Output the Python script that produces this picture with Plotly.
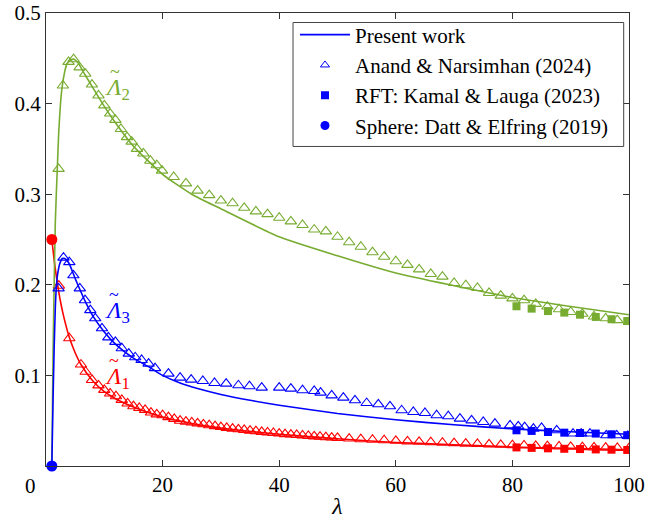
import plotly.graph_objects as go

# ---------------- data ----------------
# Present work (solid curves)
lam1_line = [1, 1.5, 2, 2.5, 3, 4, 5, 6, 8, 10, 12, 15, 20, 25, 30, 40, 50, 60, 70, 80, 90, 100]
L1_line = [0.25, 0.222, 0.200, 0.181, 0.166, 0.142, 0.125, 0.112, 0.094, 0.082, 0.074, 0.065,
           0.054, 0.047, 0.042, 0.035, 0.030, 0.026, 0.0235, 0.021, 0.0195, 0.018]

lam2_line = [1, 1.2, 1.4, 1.6, 1.95, 2.2, 2.7, 3.2, 3.6, 4.2, 4.8, 5.5, 6.5, 8, 10, 12, 15, 20,
             25, 30, 40, 50, 60, 70, 80, 90, 100]
L2_line = [0.0, 0.12, 0.20, 0.27, 0.33, 0.37, 0.415, 0.435, 0.444, 0.448, 0.449, 0.445, 0.434,
           0.418, 0.397, 0.378, 0.353, 0.322, 0.300, 0.284, 0.253, 0.232, 0.213, 0.199, 0.186,
           0.176, 0.167]

lam3_line = [1, 1.2, 1.4, 1.6, 1.8, 2.0, 2.4, 2.8, 3.2, 3.6, 4, 5, 6, 7, 8, 10, 12, 15, 18, 20,
             23, 26, 30, 35, 40, 50, 60, 70, 80, 90, 100]
L3_line = [0.0, 0.07, 0.13, 0.175, 0.20, 0.212, 0.224, 0.229, 0.229, 0.227, 0.223, 0.207, 0.192,
           0.178, 0.166, 0.148, 0.134, 0.119, 0.108, 0.100, 0.0916, 0.0855, 0.079, 0.0725, 0.067,
           0.058, 0.051, 0.0455, 0.0410, 0.0378, 0.035]

# Anand & Narsimhan (2024) triangles
lam1_an = [2.2, 4.0, 6.0, 6.8, 7.9, 9.0, 10, 11, 12, 13, 14, 15, 16, 17, 18, 19, 20, 21, 22, 23,
           24, 25, 26, 27, 28, 29, 30, 31, 32, 33, 34, 35, 36, 37, 38, 39, 40, 41, 42, 43, 44, 45,
           46, 47, 48, 49, 50, 52, 54, 56, 58, 60, 62, 64, 66, 68, 70, 72, 74, 76, 78, 80, 82, 84,
           86, 88, 90, 92, 94, 96, 98, 100]
L1_an = [0.199, 0.141, 0.112, 0.104, 0.095, 0.089, 0.084, 0.080, 0.077, 0.073, 0.069, 0.066, 0.064,
         0.062, 0.059, 0.057, 0.056, 0.054, 0.052, 0.050, 0.049, 0.048, 0.047, 0.046, 0.045, 0.044,
         0.043, 0.042, 0.0412, 0.0405, 0.0398, 0.039, 0.0384, 0.0377, 0.037, 0.0364, 0.0358,
         0.0352, 0.0347, 0.0342, 0.0337, 0.0332, 0.0327, 0.0323, 0.0318, 0.0314, 0.031, 0.0303,
         0.0296, 0.029, 0.0284, 0.0278, 0.0272, 0.0267, 0.0262, 0.0257, 0.0252, 0.0247, 0.0243,
         0.0238, 0.0234, 0.023, 0.0226, 0.0222, 0.0219, 0.0215, 0.0212, 0.0208, 0.0205, 0.0202,
         0.0199, 0.0196]

lam2_an = [2.16, 2.9, 3.87, 4.73, 5.76, 6.73, 7.88, 9.0, 10.0, 11.0, 11.9, 12.85, 13.9, 14.7, 15.6,
           16.7, 17.9, 19.0, 19.9, 21.9, 24, 26, 28, 30, 32, 34, 36, 38, 40, 42, 44, 46, 48, 50, 52,
           54, 56, 58, 60, 62, 64, 66, 68, 70, 72, 74, 76, 78, 80, 82, 84, 86, 88, 90, 92, 94, 96,
           98, 100]
L2_an = [0.328, 0.420, 0.446, 0.449, 0.440, 0.433, 0.421, 0.409, 0.398, 0.389, 0.382, 0.372, 0.363,
         0.358, 0.350, 0.345, 0.337, 0.332, 0.326, 0.319, 0.312, 0.304, 0.299, 0.293, 0.290, 0.285,
         0.281, 0.278, 0.274, 0.270, 0.266, 0.261, 0.259, 0.253, 0.247, 0.242, 0.236, 0.231, 0.226,
         0.222, 0.217, 0.212, 0.209, 0.202, 0.1995, 0.1965, 0.191, 0.188, 0.185, 0.183, 0.179,
         0.176, 0.173, 0.170, 0.168, 0.165, 0.163, 0.161, 0.159]

lam3_an = [2.16, 3.0, 4.0, 4.7, 5.8, 6.7, 7.6, 8.45, 9.6, 10.7, 11.9, 13.0, 14.2, 15.3, 16.4, 17.6,
           18.7, 21.0, 23.0, 24.9, 26.9, 28.9, 30.9, 33.0, 34.9, 37.0, 40.0, 42, 44, 46, 47.1, 49,
           51, 53, 55, 57, 59, 61, 63, 65, 67, 69, 71, 73, 75, 77, 79.6, 81, 82.1, 83.6, 85, 87.6,
           90.4, 91.8, 93.3, 96.1, 97.9, 99.8]
L3_an = [0.196, 0.230, 0.225, 0.2105, 0.196, 0.183, 0.172, 0.163, 0.152, 0.142, 0.137, 0.130, 0.124,
         0.120, 0.117, 0.113, 0.108, 0.102, 0.0975, 0.0953, 0.0938, 0.0916, 0.0909, 0.0891, 0.088,
         0.0865, 0.0865, 0.0854, 0.0836, 0.0828, 0.081, 0.078, 0.0755, 0.0725, 0.0695, 0.0681,
         0.0659, 0.0615, 0.0596, 0.0585, 0.056, 0.0549, 0.0523, 0.0504, 0.0486, 0.0468, 0.0449,
         0.0438, 0.043, 0.0413, 0.042, 0.0394, 0.0358, 0.0358, 0.0358, 0.0339, 0.0339, 0.0332]

# RFT: Kamal & Lauga (2023) squares
lam_rft = [80.7, 83.3, 86.1, 88.9, 91.6, 94.3, 97.0, 99.7]
L1_rft = [0.0205, 0.0200, 0.0195, 0.0190, 0.0187, 0.0183, 0.0180, 0.0177]
L2_rft = [0.1763, 0.1737, 0.1710, 0.1693, 0.1670, 0.1645, 0.1620, 0.1600]
L3_rft = [0.0394, 0.0387, 0.0375, 0.0368, 0.0364, 0.0358, 0.0350, 0.0340]

# Sphere: Datt & Elfring (2019)
lam_sph = [1.0]
L1_sph = [0.25]
L3_sph = [0.0]

x_ticks = [20, 40, 60, 80, 100]
y_ticks = [0.1, 0.2, 0.3, 0.4, 0.5]

RED = "#FF0000"
GREEN = "#77AC30"
BLUE = "#0000FF"
FONT = "Liberation Serif, Tinos, Times New Roman, DejaVu Serif, serif"

fig = go.Figure()

def add_set(lam_l, L_l, lam_a, L_a, L_r, color):
    fig.add_trace(go.Scatter(x=lam_l, y=L_l, mode="lines",
                             line=dict(color=color, width=1.6, shape="spline", smoothing=0.6),
                             showlegend=False, hoverinfo="skip"))
    fig.add_trace(go.Scatter(x=lam_a, y=L_a, mode="markers",
                             marker=dict(symbol="triangle-up-open", size=10, color=color,
                                         line=dict(width=1.1, color=color)),
                             showlegend=False))
    fig.add_trace(go.Scatter(x=lam_rft, y=L_r, mode="markers",
                             marker=dict(symbol="square", size=8, color=color),
                             showlegend=False))

add_set(lam1_line, L1_line, lam1_an, L1_an, L1_rft, RED)
add_set(lam2_line, L2_line, lam2_an, L2_an, L2_rft, GREEN)
add_set(lam3_line, L3_line, lam3_an, L3_an, L3_rft, BLUE)

fig.add_trace(go.Scatter(x=lam_sph, y=L1_sph, mode="markers", marker=dict(symbol="circle", size=11, color=RED),
                         showlegend=False, cliponaxis=False))
fig.add_trace(go.Scatter(x=lam_sph, y=L3_sph, mode="markers", marker=dict(symbol="circle", size=11, color=BLUE),
                         showlegend=False, cliponaxis=False))

# legend entries
fig.add_trace(go.Scatter(x=[None], y=[None], mode="lines", line=dict(color=BLUE, width=1.6),
                         name="Present work", legendgroup="a"))
fig.add_trace(go.Scatter(x=[None], y=[None], mode="markers",
                         marker=dict(symbol="triangle-up-open", size=8, color=BLUE, line=dict(width=1, color=BLUE)),
                         name="Anand & Narsimhan (2024)", legendgroup="b"))
fig.add_trace(go.Scatter(x=[None], y=[None], mode="markers", marker=dict(symbol="square", size=8, color=BLUE),
                         name="RFT: Kamal & Lauga (2023)", legendgroup="c"))
fig.add_trace(go.Scatter(x=[None], y=[None], mode="markers", marker=dict(symbol="circle", size=9, color=BLUE),
                         name="Sphere: Datt & Elfring (2019)", legendgroup="d"))

axis_common = dict(showgrid=False, zeroline=False, showline=True, linecolor="#333333", linewidth=1,
                   mirror="ticks", ticks="inside", ticklen=6, tickcolor="#333333", automargin=False,
                   ticklabeloverflow="allow",
                   tickfont=dict(family=FONT, size=21, color="black"))

fig.update_layout(
    template="none",
    width=645, height=522,
    margin=dict(l=45.7, r=15.7, t=12.5, b=56.3, autoexpand=False),
    paper_bgcolor="white", plot_bgcolor="white",
    font=dict(family=FONT, color="black"),
    xaxis=dict(range=[0, 100], tickvals=x_ticks, ticktext=[str(v) for v in x_ticks], **axis_common,
               title=dict(text="<i>λ</i>", font=dict(family=FONT, size=24), standoff=0)),
    yaxis=dict(range=[0, 0.5], tickvals=y_ticks, ticktext=[str(v) for v in y_ticks], **axis_common),
    legend=dict(x=0.4271, y=0.9967, xanchor="left", yanchor="top", bgcolor="rgba(0,0,0,0)",
                borderwidth=0, font=dict(family=FONT, size=21, color="black"),
                traceorder="grouped", tracegroupgap=0, itemwidth=50),
    showlegend=True,
)

# legend frame
fig.add_shape(type="rect", xref="paper", yref="paper", x0=0.4237, x1=0.9909, y0=0.7054, y1=0.9790,
              line=dict(color="#444444", width=1), fillcolor="white", layer="above")

ann_font = dict(family=FONT, size=24)
fig.add_annotation(x=0.0, y=0.0, xref="paper", yref="paper", text="0", showarrow=False,
                   xanchor="center", yanchor="middle",
                   xshift=-16, yshift=-20, font=dict(family=FONT, size=21, color="black"))
# curve labels (tilde drawn above the italic Lambda)
labels = [(12.3, 0.416, "2", GREEN), (12.2, 0.170, "3", BLUE), (12.2, 0.097, "1", RED)]
for lx, ly, sub, col in labels:
    fig.add_annotation(x=lx, y=ly, text=f"<i>Λ</i><sub>{sub}</sub>", showarrow=False,
                       font=dict(color=col, **ann_font))
    fig.add_annotation(x=lx, y=ly, text="~", showarrow=False, xshift=-3, yshift=17,
                       font=dict(color=col, family=FONT, size=18))

fig.write_html("out.html", config={"displayModeBar": False},
               post_script="document.body.style.margin='0px';")
